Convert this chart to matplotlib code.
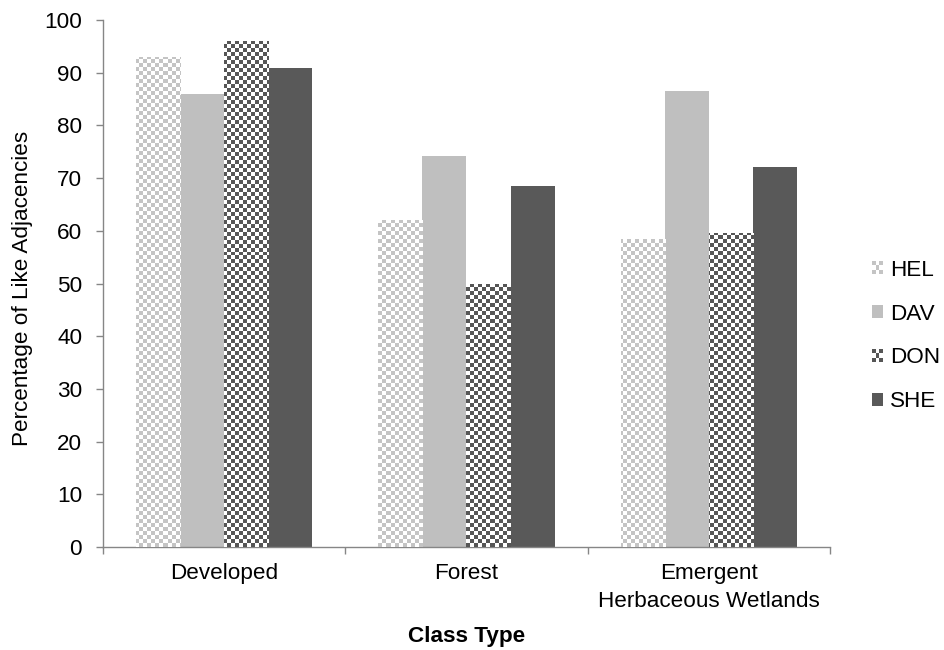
import numpy as np
import matplotlib
matplotlib.use("Agg")
import matplotlib.pyplot as plt
from matplotlib.patches import Rectangle
from matplotlib.legend_handler import HandlerBase

# ---- data ----
categories = ["Developed", "Forest", "Emergent\nHerbaceous Wetlands"]
series_names = ["HEL", "DAV", "DON", "SHE"]
hel = [93.0, 62.0, 58.5]
dav = [86.0, 74.2, 86.5]
don = [96.0, 50.0, 59.5]
she = [90.8, 68.5, 72.2]
yticks = [0, 10, 20, 30, 40, 50, 60, 70, 80, 90, 100]

series_values = [hel, dav, don, she]
# (color, checkered?)
styles = [("#c4c4c4", True), ("#bfbfbf", False), ("#565656", True), ("#595959", False)]

plt.rcParams['font.family'] = ['Liberation Sans', 'DejaVu Sans']
FS = 16.2

W, H, DPI = 945, 650, 100
fig = plt.figure(figsize=(W / DPI, H / DPI), dpi=DPI)
ax_l, ax_r, ax_t, ax_b = 103, 830, 20, 547
ax = fig.add_axes([ax_l / W, 1 - ax_b / H, (ax_r - ax_l) / W, (ax_b - ax_t) / H])

x = np.arange(len(categories))
bw = 0.182
offsets = (np.arange(len(series_names)) - 1.5) * bw

xlim = (-0.5, len(categories) - 0.5)
ylim = (0, 100)

cell_px = 4
ncols = int(round((ax_r - ax_l) / cell_px))
nrows = int(round((ax_b - ax_t) / cell_px))
ii, jj = np.indices((nrows, ncols))
checker = ((ii + jj) % 2 == 0)

def checker_img(color):
    rgb = np.array(matplotlib.colors.to_rgb(color))
    img = np.ones((nrows, ncols, 3))
    img[checker] = rgb
    return img

for k, (name, vals) in enumerate(zip(series_names, series_values)):
    color, checkered = styles[k]
    bars = ax.bar(x + offsets[k], vals, width=bw,
                  color=("white" if checkered else color), edgecolor="none",
                  label=name, zorder=2)
    if checkered:
        img = checker_img(color)
        for b in bars:
            im = ax.imshow(img, extent=(xlim[0], xlim[1], ylim[0], ylim[1]),
                           origin="upper", interpolation="nearest", aspect="auto", zorder=3)
            im.set_clip_path(b)

ax.set_xlim(*xlim)
ax.set_ylim(*ylim)

# spines
for s in ["top", "right"]:
    ax.spines[s].set_visible(False)
for s in ["left", "bottom"]:
    ax.spines[s].set_color("#868686")
    ax.spines[s].set_linewidth(1.0)

ax.set_yticks(yticks)
ax.tick_params(axis="y", length=5, width=1.0, color="#868686", pad=10,
               labelsize=FS, labelcolor="black")

# x: major ticks at boundaries (no labels), minor ticks at centers with labels
ax.set_xticks(np.arange(len(categories) + 1) - 0.5)
ax.set_xticklabels([])
ax.set_xticks(x, minor=True)
ax.set_xticklabels(categories, minor=True, fontsize=FS, linespacing=1.45)
ax.tick_params(axis="x", which="major", length=5, width=1.0, color="#868686")
ax.tick_params(axis="x", which="minor", length=0, pad=11.5, labelsize=FS)

ax.set_ylabel("Percentage of Like Adjacencies", fontsize=FS)
ax.yaxis.set_label_coords(-0.096, 0.49)
ax.set_xlabel("Class Type", fontsize=FS, fontweight="bold", labelpad=10)


class CheckerHandler(HandlerBase):
    def __init__(self, color, checkered):
        super().__init__()
        self.color = color
        self.checkered = checkered

    def create_artists(self, legend, orig_handle, xdescent, ydescent,
                       width, height, fontsize, trans):
        x0, y0 = -xdescent, -ydescent
        arts = []
        if not self.checkered:
            arts.append(Rectangle((x0, y0), width, height, facecolor=self.color,
                                  edgecolor="none", transform=trans))
        else:
            n = 3
            cw, ch = width / n, height / n
            arts.append(Rectangle((x0, y0), width, height, facecolor="white",
                                  edgecolor="none", transform=trans))
            for i in range(n):
                for j in range(n):
                    if (i + j) % 2 == 0:
                        arts.append(Rectangle((x0 + i * cw, y0 + j * ch), cw, ch,
                                              facecolor=self.color, edgecolor="none",
                                              transform=trans))
        return arts


handles = [Rectangle((0, 0), 1, 1) for _ in series_names]
hmap = {h: CheckerHandler(*styles[k]) for k, h in enumerate(handles)}
leg = fig.legend(handles, series_names, handler_map=hmap,
                 loc="center left", bbox_to_anchor=(872 / W, 1 - 336 / H),
                 bbox_transform=fig.transFigure, frameon=False, fontsize=FS,
                 handlelength=0.5, handleheight=0.5, handletextpad=0.3,
                 labelspacing=1.02, borderpad=0, borderaxespad=0)

fig.savefig("out.png", dpi=DPI)
